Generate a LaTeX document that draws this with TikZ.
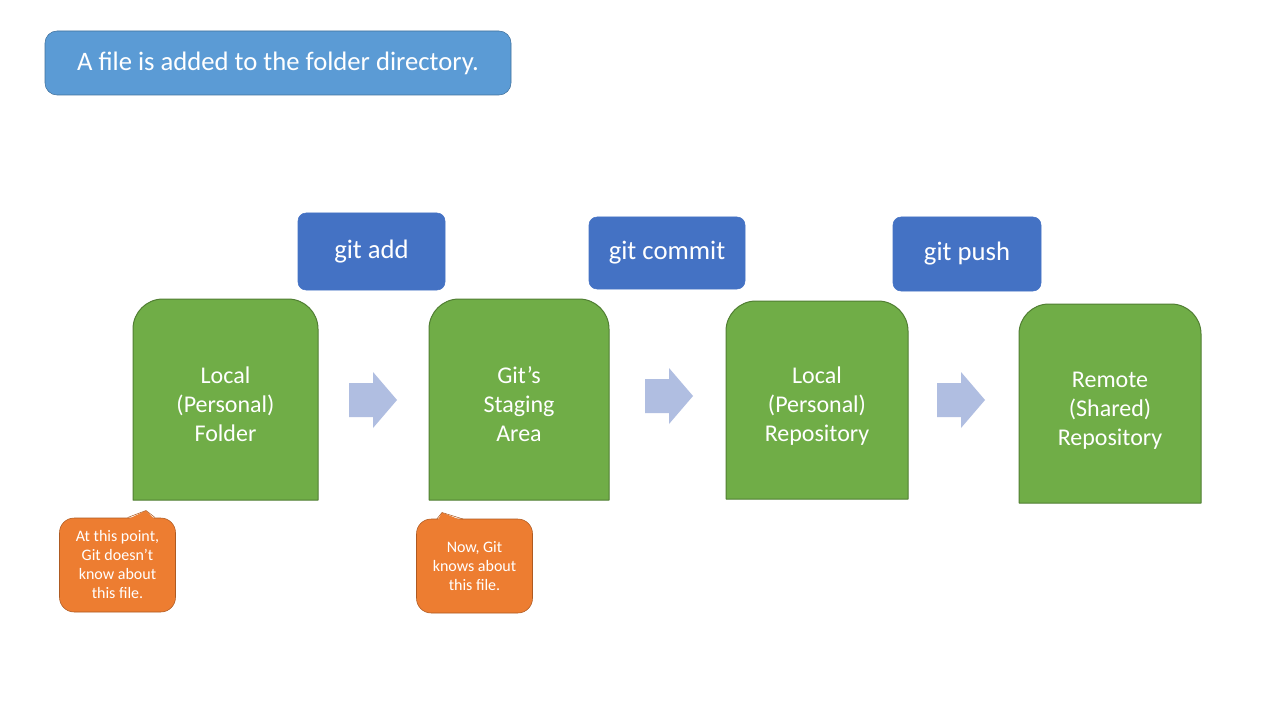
\documentclass[tikz,border=0pt]{standalone}
\usepackage{fontspec}
\setmainfont{Carlito}
\definecolor{bannerblue}{RGB}{91,155,213}
\definecolor{bannerline}{RGB}{65,113,156}
\definecolor{cmdblue}{RGB}{68,114,196}
\definecolor{stagegreen}{RGB}{112,173,71}
\definecolor{stageline}{RGB}{80,126,50}
\definecolor{noteorange}{RGB}{237,125,49}
\definecolor{noteline}{RGB}{174,90,33}
\definecolor{flowblue}{RGB}{176,190,225}

\begin{document}
\begin{tikzpicture}[x=0.75pt, y=-0.75pt, line join=round,
    banner/.style={draw=bannerline, fill=bannerblue, rounded corners=9pt, text=white, font=\fontsize{20}{24}\selectfont, minimum width=349.5pt, minimum height=48pt},
    cmd/.style={draw=cmdblue, fill=cmdblue, rounded corners=6pt, text=white, font=\fontsize{20}{24}\selectfont},
    stage/.style={draw=stageline, fill=stagegreen, line width=0.75pt},
    stagetext/.style={text=white, align=center, font=\fontsize{18}{21.75}\selectfont},
    note/.style={draw=noteline, fill=noteorange, rounded corners=11pt, text=white, align=center, font=\fontsize{12}{14.25}\selectfont, minimum width=87pt, minimum height=70.5pt, inner sep=0pt},
    flow/.style={fill=flowblue}]
    %Page
    \fill[white] (0,0) rectangle (1280,720);
    \useasboundingbox (0,0) rectangle (1280,720);

    %Banner
    \node[banner] (banner) at (278,63) {A file is added to the folder directory.};

        %Git Commands
    \node[cmd, minimum width=110.25pt, minimum height=57.75pt] (gitadd) at (371.5,251.5) {git add};
    \node[cmd, minimum width=117pt, minimum height=54pt] (gitcommit) at (667,253) {git commit};
    \node[cmd, minimum width=111pt, minimum height=55.5pt] (gitpush) at (967,254) {git push};

        %Stage Boxes
    \foreach \l/\t/\r/\b in {133/299/318/500, 429/299/609/500, 726/301/908/499, 1019/304/1201/503}
        \draw[stage] (\l,\b) -- (\l,\t+30) arc(180:270:30) -- (\r-30,\t) arc(270:360:30) -- (\r,\b) -- cycle;
    \node[stagetext] (folder) at (225.5,404) {Local\\(Personal)\\Folder};
    \node[stagetext] (staging) at (519,404) {Git’s\\Staging\\Area};
    \node[stagetext] (localrepo) at (817,406) {Local\\(Personal)\\Repository};
    \node[stagetext] (remoterepo) at (1110,410.5) {Remote\\(Shared)\\Repository};

        %Flow Arrows
    \foreach \x/\y in {349/400, 645/396, 937/400}
        \fill[flow] (\x,\y-17) -- (\x+24,\y-17) -- (\x+24,\y-28) -- (\x+48,\y) -- (\x+24,\y+28) -- (\x+24,\y+17) -- (\x,\y+17) -- cycle;

        %Notes
    \node[note] (notea) at (117.5,565) {At this point,\\Git doesn’t\\know about\\this file.};
    \fill[noteorange] (128.5,519) -- (146,510.5) -- (154.5,519) -- cycle;
    \draw[noteline] (127.7,517.5) -- (146,510.5) -- (155,517.5);

    \node[note] (noteb) at (474.5,566) {Now, Git\\knows about\\this file.};
    \fill[noteorange] (437.5,520.5) -- (442,512.5) -- (462,520.5) -- cycle;
    \draw[noteline] (436.8,519) -- (442,512.5) -- (463,519);
\end{tikzpicture}
\end{document}
